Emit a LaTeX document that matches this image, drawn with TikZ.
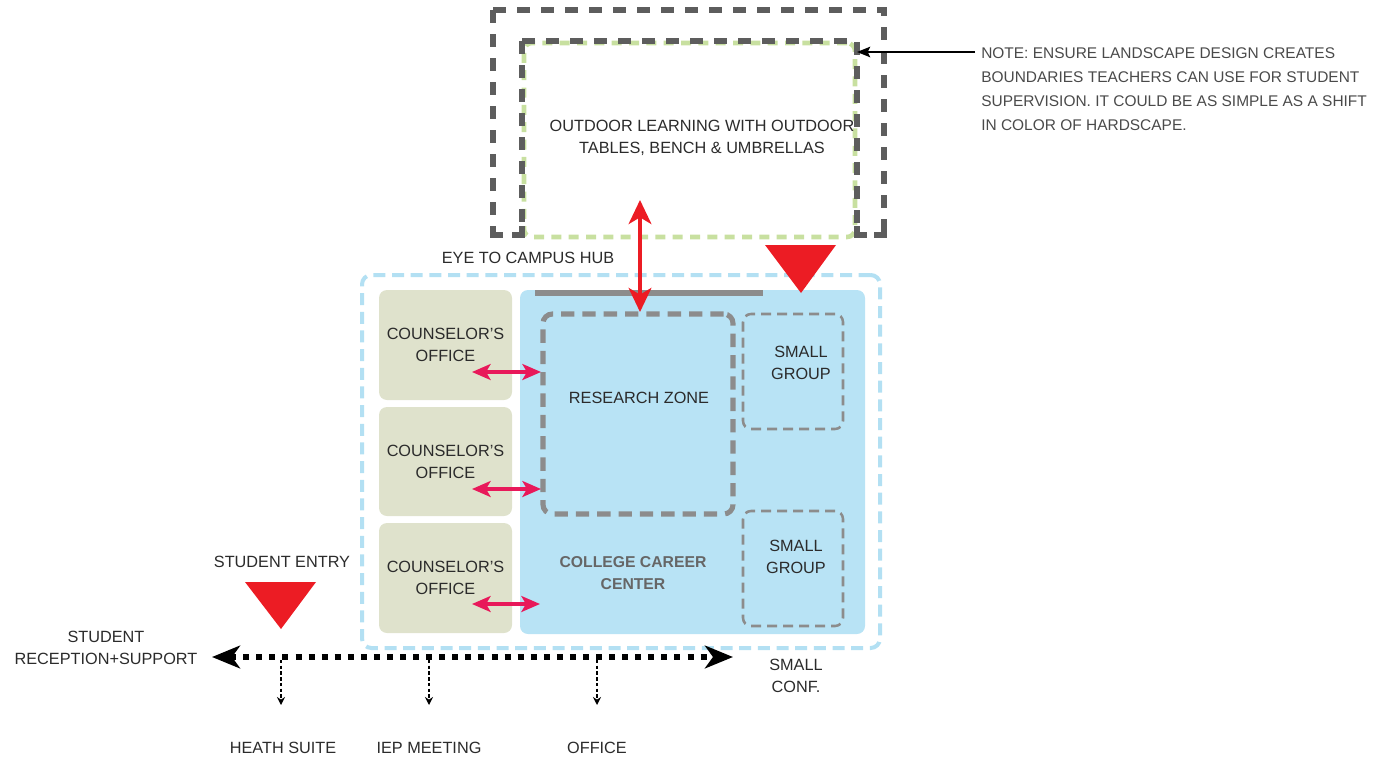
\documentclass[tikz,border=0pt]{standalone}
\usepackage{fontspec}
\setmainfont{Liberation Sans}
\usetikzlibrary{arrows.meta}
\definecolor{darkdash}{HTML}{5D5D5D}
\definecolor{greendash}{HTML}{C8E0A0}
\definecolor{bluedash}{HTML}{B3E0F3}
\definecolor{olivefill}{HTML}{DFE2CC}
\definecolor{bluefill}{HTML}{B8E3F5}
\definecolor{zonegray}{HTML}{8C8C8C}
\definecolor{redmark}{HTML}{EC1C24}
\definecolor{pinkmark}{HTML}{E8195A}
\definecolor{txtcol}{HTML}{2B2B2B}
\definecolor{notecol}{HTML}{4A4A4A}
\definecolor{collcol}{HTML}{666666}
\def\u{0.75pt}
\tikzset{
  txt/.style={font=\fontsize{12.2}{16.5}\selectfont, text=txtcol, align=center, inner sep=0pt},
  darkline/.style={draw=darkdash, line width=3.8pt, dash pattern=on 10pt off 8pt},
  darkcorner/.style={draw=darkdash, line width=3.8pt},
  greenbox/.style={draw=greendash, line width=3.4pt, dash pattern=on 7.5pt off 5.5pt, rounded corners=6pt, minimum width=331*\u, minimum height=194*\u, inner sep=0pt},
  hubbox/.style={draw=bluedash, line width=3pt, dash pattern=on 9pt off 5pt, rounded corners=7pt, inner sep=0pt},
  officebox/.style={fill=olivefill, rounded corners=6pt, minimum width=133*\u, inner sep=0pt, txt},
  centerbox/.style={fill=bluefill, rounded corners=6pt, minimum width=345*\u, minimum height=344*\u, inner sep=0pt},
  zonebox/.style={draw=zonegray, line width=3.8pt, dash pattern=on 10pt off 6pt, rounded corners=7pt, inner sep=0pt},
  groupbox/.style={draw=zonegray, line width=1.9pt, dash pattern=on 7.5pt off 4.5pt, rounded corners=6pt, minimum width=100*\u, minimum height=115*\u, inner sep=0pt},
  redarrow/.style={draw=redmark, line width=3pt, {Stealth[length=18pt,width=17pt,inset=5pt]}-{Stealth[length=18pt,width=17pt,inset=5pt]}},
  pinkarrow/.style={draw=pinkmark, line width=2.3pt, {Stealth[length=14pt,width=12pt,inset=3.5pt]}-{Stealth[length=14pt,width=12pt,inset=3.5pt]}},
  dotline/.style={draw=black, line width=4.5pt, dash pattern=on 4.5pt off 5.3pt, {Stealth[length=21pt,width=17pt,inset=6pt]}-{Stealth[length=21pt,width=17pt,inset=6pt]}},
  droparrow/.style={draw=black, line width=0.9pt, dash pattern=on 2.5pt off 1.8pt, -{Stealth[length=6pt,width=6pt]}},
  notearrow/.style={draw=black, line width=1.1pt, -{Stealth[length=10pt,width=8pt,inset=2pt]}},
  redtri/.style={fill=redmark}
}
\begin{document}
\begin{tikzpicture}[x=0.75pt,y=-0.75pt]
\useasboundingbox (0,0) rectangle (1378,760);
% outdoor area
\node[greenbox] (outdoor) at (689.5,140) {};
\draw[darkline] (493,10) -- (493,226);
\draw[darkline] (493,10) -- (884,10) -- (884,226);
\draw[darkcorner] (493,226) -- (493,235) -- (503,235);
\draw[darkcorner] (884,226) -- (884,235) -- (874,235);
\draw[darkline] (522,41) -- (522,226);
\draw[darkline] (522,41) -- (857,41) -- (857,226);
\draw[darkcorner] (522,226) -- (522,235) -- (512,235);
\draw[darkcorner] (857,226) -- (857,235) -- (867,235);
\node[txt] (outdoortxt) at (702,138) {OUTDOOR LEARNING WITH OUTDOOR\\TABLES, BENCH \& UMBRELLAS};
% note
\node[txt, font=\fontsize{11.6}{18}\selectfont, text=notecol, align=left, anchor=north west] (note) at (981,47)
  {NOTE: ENSURE LANDSCAPE DESIGN CREATES\\BOUNDARIES TEACHERS CAN USE FOR STUDENT\\SUPERVISION. IT COULD BE AS SIMPLE AS A SHIFT\\IN COLOR OF HARDSCAPE.};
\coordinate (notestart) at (975,52);
\coordinate (noteend) at (857,52);
\draw[notearrow] (notestart) -- (noteend);
% hub
\node[txt] (eye) at (528,258) {EYE TO CAMPUS HUB};
\node[hubbox, minimum width=518*\u, minimum height=373*\u] (hub) at (621,461.5) {};
\node[officebox, minimum height=110*\u] (off1) at (445.5,345) {COUNSELOR’S\\OFFICE};
\node[officebox, minimum height=109*\u] (off2) at (445.5,461.5) {COUNSELOR’S\\OFFICE};
\node[officebox, minimum height=110*\u] (off3) at (445.5,578) {COUNSELOR’S\\OFFICE};
\node[centerbox] (center) at (692.5,462) {};
\coordinate (barl) at (535,293);
\coordinate (barr) at (763,293);
\draw[draw=zonegray, line width=4.5pt] (barl) -- (barr);
\node[zonebox, minimum width=190*\u, minimum height=200*\u] (research) at (638,414) {};
\node[txt] (researchtxt) at (639,398) {RESEARCH ZONE};
\node[groupbox] (group1) at (793,371.5) {};
\node[txt] (group1txt) at (801,363) {SMALL\\GROUP};
\node[groupbox] (group2) at (793,568.5) {};
\node[txt] (group2txt) at (796,557) {SMALL\\GROUP};
\node[txt, text=collcol, font=\fontsize{11.8}{16.5}\selectfont\bfseries] (college) at (633,573.5) {COLLEGE CAREER\\CENTER};
% red arrows and triangles
\coordinate (ra1) at (640,200);
\coordinate (ra2) at (640,312);
\draw[redarrow] (ra1) -- (ra2);
\path[redtri] (765,245) -- (836,245) -- (801,293) -- cycle;
% pink arrows
\coordinate (p1a) at (472,372); \coordinate (p1b) at (541,372);
\coordinate (p2a) at (472,489); \coordinate (p2b) at (541,489);
\coordinate (p3a) at (472,604); \coordinate (p3b) at (540,604);
\draw[pinkarrow] (p1a) -- (p1b);
\draw[pinkarrow] (p2a) -- (p2b);
\draw[pinkarrow] (p3a) -- (p3b);
% student entry
\node[txt] (entry) at (282,562) {STUDENT ENTRY};
\path[redtri] (245,582) -- (316,582) -- (281,629) -- cycle;
\node[txt] (reception) at (106,648) {STUDENT\\RECEPTION+SUPPORT};
\node[txt] (conf) at (796,676) {SMALL\\CONF.};
\coordinate (dl) at (212,657);
\coordinate (dr) at (733,657);
\draw[dotline] (dl) -- (dr);
\node[txt] (heath) at (283,748) {HEATH SUITE};
\node[txt] (iep) at (429,748) {IEP MEETING};
\node[txt] (office) at (597,748) {OFFICE};
\coordinate (d1) at (281,660); \coordinate (d1e) at (281,705);
\coordinate (d2) at (429,660); \coordinate (d2e) at (429,705);
\coordinate (d3) at (597,660); \coordinate (d3e) at (597,705);
\draw[droparrow] (d1) -- (d1e);
\draw[droparrow] (d2) -- (d2e);
\draw[droparrow] (d3) -- (d3e);
\end{tikzpicture}
\end{document}
